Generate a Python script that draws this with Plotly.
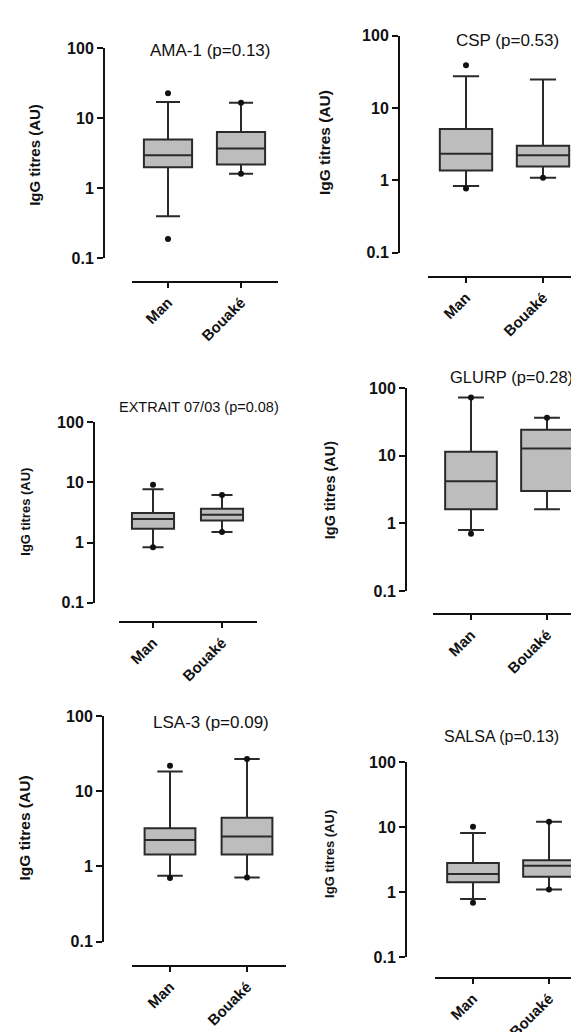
import plotly.graph_objects as go

W, H = 579, 1032

groups = ["Man", "Bouaké"]
antigens = ["AMA-1", "CSP", "EXTRAIT 07/03", "GLURP", "LSA-3", "SALSA"]
p_values = ["0.13", "0.53", "0.08", "0.28", "0.09", "0.13"]

# per antigen: [Man, Bouaké]
lower_whisker = [[0.40, 1.62], [0.835, 1.08], [0.835, 1.50], [0.80, 1.61], [0.75, 0.71], [0.79, 1.10]]
q1 = [[2.00, 2.19], [1.36, 1.55], [1.70, 2.33], [1.61, 3.00], [1.44, 1.44], [1.42, 1.74]]
median = [[2.98, 3.70], [2.33, 2.21], [2.48, 2.91], [4.20, 12.8], [2.25, 2.49], [1.91, 2.55]]
q3 = [[5.00, 6.40], [5.10, 3.00], [3.10, 3.65], [11.5, 24.3], [3.23, 4.44], [2.83, 3.10]]
upper_whisker = [[17.1, 16.7], [27.4, 24.7], [7.7, 6.2], [73.0, 36.5], [18.3, 26.8], [8.2, 12.2]]

# individual points drawn beyond / at whisker ends
point_groups = [
    ["Man", "Man", "Bouaké", "Bouaké"],
    ["Man", "Man", "Bouaké"],
    ["Man", "Man", "Bouaké", "Bouaké"],
    ["Man", "Man", "Bouaké"],
    ["Man", "Man", "Bouaké", "Bouaké"],
    ["Man", "Man", "Bouaké", "Bouaké"],
]
point_values = [
    [22.8, 0.19, 16.7, 1.62],
    [39.0, 0.77, 1.08],
    [9.2, 0.835, 6.2, 1.50],
    [73.0, 0.70, 36.5],
    [21.9, 0.70, 26.8, 0.71],
    [10.2, 0.69, 12.2, 1.10],
]

y_tick_values = [0.1, 1, 10, 100]
y_tick_labels = ["0.1", "1", "10", "100"]
y_title = "IgG titres (AU)"

# layout (pixel) of each panel
panels = [
    dict(ytop=33, ybot=248, yx=96, xl=123.5, xr=269.5, xline=272, bw=0.66,
         tx=202, ty=35, tfs=17, yt_x=27, yt_y=142, ytfs=15),
    dict(ytop=20, ybot=242, yx=391, xl=419.5, xr=573.5, xline=267, bw=0.68,
         tx=499, ty=25, tfs=17, yt_x=316, yt_y=130, ytfs=15.5),
    dict(ytop=415.7, ybot=600, yx=86, xl=110.5, xr=248.5, xline=620, bw=0.61,
         tx=191, ty=400, tfs=14.5, yt_x=18, yt_y=507, ytfs=13),
    dict(ytop=380.7, ybot=588, yx=398, xl=425, xr=577, xline=612, bw=0.68,
         tx=503, ty=369, tfs=16.5, yt_x=322, yt_y=485, ytfs=14.5),
    dict(ytop=716, ybot=946.7, yx=95, xl=123.5, xr=277.5, xline=972, bw=0.66,
         tx=203, ty=723, tfs=17, yt_x=16, yt_y=831, ytfs=15.5),
    dict(ytop=763.3, ybot=962.7, yx=398, xl=427, xr=579, xline=984, bw=0.68,
         tx=493, ty=737, tfs=16, yt_x=322, yt_y=857, ytfs=13),
]

FONT = "Liberation Sans, Arial, sans-serif"
fig = go.Figure()
annotations = []
layout_axes = {}

for i, p in enumerate(panels):
    n = i + 1
    xa = "x" if n == 1 else f"x{n}"
    ya = "y" if n == 1 else f"y{n}"
    fig.add_trace(go.Box(
        x=groups, q1=q1[i], median=median[i], q3=q3[i],
        lowerfence=lower_whisker[i], upperfence=upper_whisker[i],
        boxpoints=False, width=p["bw"], whiskerwidth=0.5,
        fillcolor="#bdbdbd", line=dict(color="#2a2a2a", width=2),
        xaxis=xa, yaxis=ya, showlegend=False, hoverinfo="skip",
    ))
    fig.add_trace(go.Scatter(
        x=point_groups[i], y=point_values[i], mode="markers",
        marker=dict(color="#111111", size=6),
        xaxis=xa, yaxis=ya, showlegend=False, hoverinfo="skip", cliponaxis=False,
    ))
    layout_axes["xaxis" if n == 1 else f"xaxis{n}"] = dict(
        domain=[p["xl"] / W, p["xr"] / W], anchor="free", position=1 - p["xline"] / H,
        type="category", categoryorder="array", categoryarray=groups, range=[-0.5, 1.5],
        showline=True, linewidth=2, linecolor="#111111",
        ticks="outside", ticklen=5, tickwidth=2, tickcolor="#111111",
        tickangle=-45, tickfont=dict(family=FONT, size=15, color="#111111", weight="bold"),
        showgrid=False, zeroline=False, fixedrange=True,
    )
    layout_axes["yaxis" if n == 1 else f"yaxis{n}"] = dict(
        domain=[1 - p["ybot"] / H, 1 - p["ytop"] / H], anchor="free", position=p["yx"] / W,
        type="log", range=[-1, 2],
        tickvals=y_tick_values, ticktext=y_tick_labels,
        showline=True, linewidth=2, linecolor="#111111",
        ticks="outside", ticklen=6, tickwidth=2, tickcolor="#111111",
        tickfont=dict(family=FONT, size=16, color="#111111", weight="bold"),
        showgrid=False, zeroline=False, fixedrange=True,
    )
    annotations.append(dict(
        text=f"{antigens[i]} (p={p_values[i]})", x=p["tx"] / W, y=1 - p["ty"] / H,
        xref="paper", yref="paper", showarrow=False, xanchor="center", yanchor="middle",
        font=dict(family=FONT, size=p["tfs"], color="#111111"),
    ))
    annotations.append(dict(
        text=y_title, x=p["yt_x"] / W, y=1 - p["yt_y"] / H, textangle=-90,
        xref="paper", yref="paper", showarrow=False, xanchor="center", yanchor="middle",
        font=dict(family=FONT, size=p["ytfs"], color="#111111", weight="bold"),
    ))

fig.update_layout(
    width=W, height=H, margin=dict(l=0, r=0, t=0, b=0),
    paper_bgcolor="white", plot_bgcolor="white",
    annotations=annotations, showlegend=False, **layout_axes,
)

fig.write_html("out.html")
